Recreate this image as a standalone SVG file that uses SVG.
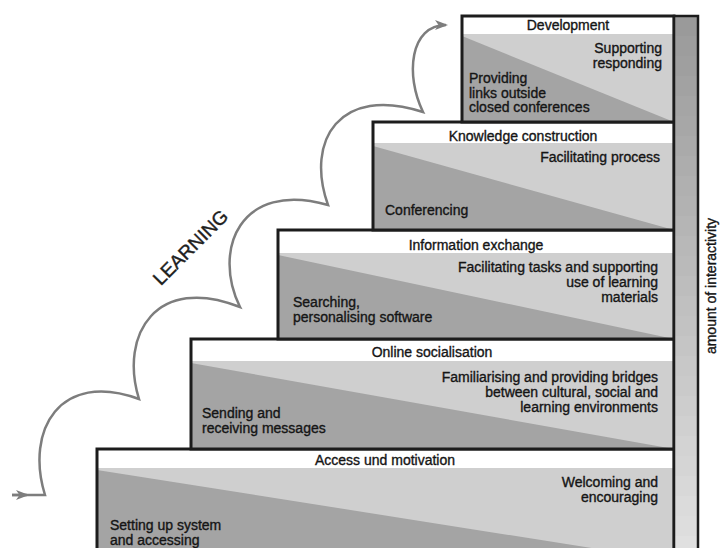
<svg xmlns="http://www.w3.org/2000/svg" width="721" height="548" viewBox="0 0 721 548">
  <style>
    .light { fill: #cfcfcf; }
    .head { fill: #ffffff; }
    .dark { fill: #a4a4a4; }
    .frame { fill: none; stroke: #1c1c1c; stroke-width: 3; }
    .t { font-family: "Liberation Sans", Arial, sans-serif; font-size: 14px; fill: #151515; stroke: #151515; stroke-width: 0.35; }
    .c { text-anchor: middle; }
    .r { text-anchor: end; }
    .curve { fill: none; stroke: #7d7d7d; stroke-width: 2.5; stroke-linejoin: miter; }
    .band { stroke: none; }
  </style>
  <defs>
    <marker id="arrow" markerUnits="userSpaceOnUse" markerWidth="14" markerHeight="10" refX="11" refY="5" orient="auto">
      <path d="M0,0 L13,5 L0,10 L3.5,5 Z" fill="#7d7d7d"/>
    </marker>
  </defs>

  <rect width="721" height="548" fill="#ffffff"/>

  <!-- stage 1 -->
  <g id="step-access">
    <rect class="light" x="97" y="449" width="577" height="112"/>
    <rect class="head" x="97" y="449" width="577" height="19"/>
    <polygon class="dark" points="97,470 674,561 97,561"/>
    <rect class="frame" x="97" y="449" width="577" height="112"/>
    <text class="t c" x="385" y="465">Access und motivation</text>
    <text class="t r" x="658" y="487">Welcoming and</text>
    <text class="t r" x="658" y="502">encouraging</text>
    <text class="t" x="110" y="530">Setting up system</text>
    <text class="t" x="110" y="545">and accessing</text>
  </g>

  <!-- stage 2 -->
  <g id="step-online">
    <rect class="light" x="191" y="339" width="483" height="110"/>
    <rect class="head" x="191" y="339" width="483" height="22"/>
    <polygon class="dark" points="191,363 674,449 191,449"/>
    <rect class="frame" x="191" y="339" width="483" height="110"/>
    <text class="t c" x="432" y="357">Online socialisation</text>
    <text class="t r" x="658" y="382">Familiarising and providing bridges</text>
    <text class="t r" x="658" y="397">between cultural, social and</text>
    <text class="t r" x="658" y="412">learning environments</text>
    <text class="t" x="202" y="418">Sending and</text>
    <text class="t" x="202" y="433">receiving messages</text>
  </g>

  <!-- stage 3 -->
  <g id="step-information">
    <rect class="light" x="278" y="230" width="396" height="109"/>
    <rect class="head" x="278" y="230" width="396" height="23"/>
    <polygon class="dark" points="278,255 674,339 278,339"/>
    <rect class="frame" x="278" y="230" width="396" height="109"/>
    <text class="t c" x="476" y="250">Information exchange</text>
    <text class="t r" x="658" y="272">Facilitating tasks and supporting</text>
    <text class="t r" x="658" y="287">use of learning</text>
    <text class="t r" x="658" y="302">materials</text>
    <text class="t" x="293" y="307">Searching,</text>
    <text class="t" x="293" y="322">personalising software</text>
  </g>

  <!-- stage 4 -->
  <g id="step-knowledge">
    <rect class="light" x="373" y="122" width="301" height="108"/>
    <rect class="head" x="373" y="122" width="301" height="21"/>
    <polygon class="dark" points="373,146 674,230 373,230"/>
    <rect class="frame" x="373" y="122" width="301" height="108"/>
    <text class="t c" x="523" y="141">Knowledge construction</text>
    <text class="t r" x="660" y="162">Facilitating process</text>
    <text class="t" x="385" y="215">Conferencing</text>
  </g>

  <!-- stage 5 -->
  <g id="step-development">
    <rect class="light" x="462" y="16" width="212" height="106"/>
    <rect class="head" x="462" y="16" width="212" height="18"/>
    <polygon class="dark" points="462,36 674,122 462,122"/>
    <rect class="frame" x="462" y="16" width="212" height="106"/>
    <text class="t c" x="568" y="30">Development</text>
    <text class="t r" x="662" y="53">Supporting</text>
    <text class="t r" x="662" y="68">responding</text>
    <text class="t" x="469" y="83">Providing</text>
    <text class="t" x="469" y="97.5">links outside</text>
    <text class="t" x="469" y="112">closed conferences</text>
  </g>

  <!-- interactivity scale: shading gets lighter towards the bottom -->
  <g id="interactivity-bar">
    <rect class="band" x="674" y="16" width="24" height="20" fill="#9a9a9a"/>
    <rect class="band" x="674" y="36" width="24" height="20" fill="#9d9d9d"/>
    <rect class="band" x="674" y="56" width="24" height="20" fill="#9f9f9f"/>
    <rect class="band" x="674" y="76" width="24" height="20" fill="#a2a2a2"/>
    <rect class="band" x="674" y="96" width="24" height="20" fill="#a5a5a5"/>
    <rect class="band" x="674" y="116" width="24" height="20" fill="#a7a7a7"/>
    <rect class="band" x="674" y="136" width="24" height="20" fill="#aaaaaa"/>
    <rect class="band" x="674" y="156" width="24" height="20" fill="#adadad"/>
    <rect class="band" x="674" y="176" width="24" height="20" fill="#b0b0b0"/>
    <rect class="band" x="674" y="196" width="24" height="20" fill="#b2b2b2"/>
    <rect class="band" x="674" y="216" width="24" height="20" fill="#b5b5b5"/>
    <rect class="band" x="674" y="236" width="24" height="20" fill="#b8b8b8"/>
    <rect class="band" x="674" y="256" width="24" height="20" fill="#bababa"/>
    <rect class="band" x="674" y="276" width="24" height="20" fill="#bdbdbd"/>
    <rect class="band" x="674" y="296" width="24" height="20" fill="#c0c0c0"/>
    <rect class="band" x="674" y="316" width="24" height="20" fill="#c2c2c2"/>
    <rect class="band" x="674" y="336" width="24" height="20" fill="#c5c5c5"/>
    <rect class="band" x="674" y="356" width="24" height="20" fill="#c8c8c8"/>
    <rect class="band" x="674" y="376" width="24" height="20" fill="#cacaca"/>
    <rect class="band" x="674" y="396" width="24" height="20" fill="#cdcdcd"/>
    <rect class="band" x="674" y="416" width="24" height="20" fill="#d0d0d0"/>
    <rect class="band" x="674" y="436" width="24" height="20" fill="#d3d3d3"/>
    <rect class="band" x="674" y="456" width="24" height="20" fill="#d5d5d5"/>
    <rect class="band" x="674" y="476" width="24" height="20" fill="#d8d8d8"/>
    <rect class="band" x="674" y="496" width="24" height="20" fill="#dbdbdb"/>
    <rect class="band" x="674" y="516" width="24" height="20" fill="#dddddd"/>
    <rect class="band" x="674" y="536" width="24" height="25" fill="#e0e0e0"/>
    <rect x="674" y="16" width="24" height="545" fill="none" stroke="#1c1c1c" stroke-width="2.5"/>
    <text class="t c" transform="translate(716,286) rotate(-90)">amount of interactivity</text>
  </g>

  <!-- learning path -->
  <g id="connectors">
    <path class="curve" d="M12,495 H45 C25,430 60,370 139,399 C119,334 157,274 240,307 C212,250 240,180 328,205 C305,140 340,85 423,112 C405,75 410,25 446,25" marker-end="url(#arrow)"/>
    <path class="curve" d="M12,495 H27" marker-end="url(#arrow)"/>
  </g>

  <g id="learning-label">
    <text transform="translate(195,252) rotate(-45)" text-anchor="middle" font-family="Liberation Sans, Arial, sans-serif" font-size="19" fill="#1e1e1e" stroke="#1e1e1e" stroke-width="0.4">LEARNING</text>
  </g>
</svg>
